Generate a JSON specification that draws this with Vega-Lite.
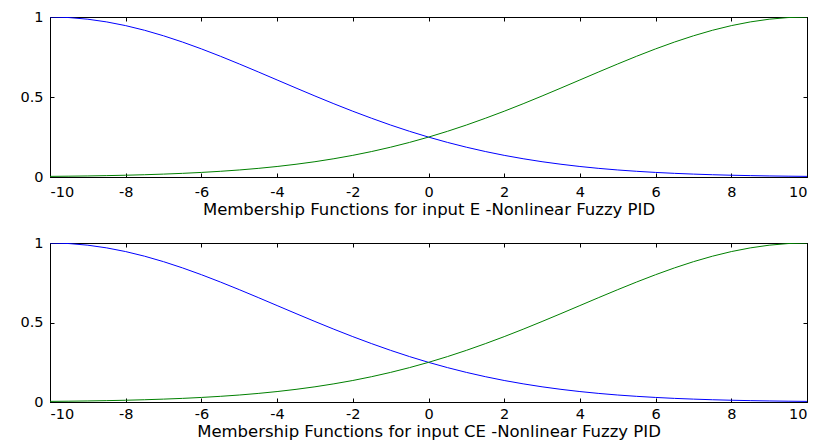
{
  "$schema": "https://vega.github.io/schema/vega-lite/v6.json",
  "autosize": {"type": "pad"},
  "padding": {"left": 19, "top": 8, "right": 1, "bottom": 0},
  "background": "white",
  "spacing": 15,
  "config": {
    "view": {"stroke": "#000000", "strokeWidth": 1},
    "font": "DejaVu Sans",
    "axis": {
      "grid": false,
      "domainColor": "#000000",
      "tickColor": "#000000",
      "tickSize": -4,
      "labelColor": "#000000",
      "labelFont": "DejaVu Sans",
      "labelFontSize": 14.5,
      "titleFont": "DejaVu Sans",
      "titleFontSize": 16.5,
      "titleFontWeight": "normal",
      "titleColor": "#000000"
    }
  },
  "datasets": {
    "mf": [
      {"x": -10, "mf": "A", "value": 1.0}, {"x": -9.5, "mf": "A", "value": 0.9965}, {"x": -9, "mf": "A", "value": 0.9862}, {"x": -8.5, "mf": "A", "value": 0.9692}, {"x": -8, "mf": "A", "value": 0.946}, {"x": -7.5, "mf": "A", "value": 0.9169}, {"x": -7, "mf": "A", "value": 0.8825}, {"x": -6.5, "mf": "A", "value": 0.8435}, {"x": -6, "mf": "A", "value": 0.8007}, {"x": -5.5, "mf": "A", "value": 0.7548}, {"x": -5, "mf": "A", "value": 0.7066}, {"x": -4.5, "mf": "A", "value": 0.657}, {"x": -4, "mf": "A", "value": 0.6065}, {"x": -3.5, "mf": "A", "value": 0.5561}, {"x": -3, "mf": "A", "value": 0.5063}, {"x": -2.5, "mf": "A", "value": 0.4578}, {"x": -2, "mf": "A", "value": 0.4111}, {"x": -1.5, "mf": "A", "value": 0.3668}, {"x": -1, "mf": "A", "value": 0.3247}, {"x": -0.5, "mf": "A", "value": 0.2855}, {"x": 0, "mf": "A", "value": 0.2494}, {"x": 0.5, "mf": "A", "value": 0.2163}, {"x": 1, "mf": "A", "value": 0.1863}, {"x": 1.5, "mf": "A", "value": 0.1593}, {"x": 2, "mf": "A", "value": 0.1353}, {"x": 2.5, "mf": "A", "value": 0.1142}, {"x": 3, "mf": "A", "value": 0.0956}, {"x": 3.5, "mf": "A", "value": 0.0796}, {"x": 4, "mf": "A", "value": 0.0657}, {"x": 4.5, "mf": "A", "value": 0.0539}, {"x": 5, "mf": "A", "value": 0.0439}, {"x": 5.5, "mf": "A", "value": 0.0356}, {"x": 6, "mf": "A", "value": 0.0286}, {"x": 6.5, "mf": "A", "value": 0.0228}, {"x": 7, "mf": "A", "value": 0.0181}, {"x": 7.5, "mf": "A", "value": 0.0142}, {"x": 8, "mf": "A", "value": 0.0111}, {"x": 8.5, "mf": "A", "value": 0.0086}, {"x": 9, "mf": "A", "value": 0.0066}, {"x": 9.5, "mf": "A", "value": 0.0051}, {"x": 10, "mf": "A", "value": 0.0039},
      {"x": -10, "mf": "B", "value": 0.0039}, {"x": -9.5, "mf": "B", "value": 0.0051}, {"x": -9, "mf": "B", "value": 0.0066}, {"x": -8.5, "mf": "B", "value": 0.0086}, {"x": -8, "mf": "B", "value": 0.0111}, {"x": -7.5, "mf": "B", "value": 0.0142}, {"x": -7, "mf": "B", "value": 0.0181}, {"x": -6.5, "mf": "B", "value": 0.0228}, {"x": -6, "mf": "B", "value": 0.0286}, {"x": -5.5, "mf": "B", "value": 0.0356}, {"x": -5, "mf": "B", "value": 0.0439}, {"x": -4.5, "mf": "B", "value": 0.0539}, {"x": -4, "mf": "B", "value": 0.0657}, {"x": -3.5, "mf": "B", "value": 0.0796}, {"x": -3, "mf": "B", "value": 0.0956}, {"x": -2.5, "mf": "B", "value": 0.1142}, {"x": -2, "mf": "B", "value": 0.1353}, {"x": -1.5, "mf": "B", "value": 0.1593}, {"x": -1, "mf": "B", "value": 0.1863}, {"x": -0.5, "mf": "B", "value": 0.2163}, {"x": 0, "mf": "B", "value": 0.2494}, {"x": 0.5, "mf": "B", "value": 0.2855}, {"x": 1, "mf": "B", "value": 0.3247}, {"x": 1.5, "mf": "B", "value": 0.3668}, {"x": 2, "mf": "B", "value": 0.4111}, {"x": 2.5, "mf": "B", "value": 0.4578}, {"x": 3, "mf": "B", "value": 0.5063}, {"x": 3.5, "mf": "B", "value": 0.5561}, {"x": 4, "mf": "B", "value": 0.6065}, {"x": 4.5, "mf": "B", "value": 0.657}, {"x": 5, "mf": "B", "value": 0.7066}, {"x": 5.5, "mf": "B", "value": 0.7548}, {"x": 6, "mf": "B", "value": 0.8007}, {"x": 6.5, "mf": "B", "value": 0.8435}, {"x": 7, "mf": "B", "value": 0.8825}, {"x": 7.5, "mf": "B", "value": 0.9169}, {"x": 8, "mf": "B", "value": 0.946}, {"x": 8.5, "mf": "B", "value": 0.9692}, {"x": 9, "mf": "B", "value": 0.9862}, {"x": 9.5, "mf": "B", "value": 0.9965}, {"x": 10, "mf": "B", "value": 1.0}
    ]
  },
  "vconcat": [
    {
      "width": 757,
      "height": 160,
      "data": {"name": "mf"},
      "layer": [
        {
          "mark": {"type": "line", "strokeWidth": 1, "clip": true},
          "encoding": {
            "x": {"field": "x", "type": "quantitative", "scale": {"domain": [-10, 10], "nice": false, "zero": false},
              "axis": {"orient": "bottom", "values": [-10, -8, -6, -4, -2, 0, 2, 4, 6, 8, 10], "labelExpr": "'' + datum.value", "labelPadding": 12, "title": "Membership Functions for input E -Nonlinear Fuzzy PID", "titlePadding": 3}},
            "y": {"field": "value", "type": "quantitative", "scale": {"domain": [0, 1], "nice": false},
              "axis": {"orient": "left", "values": [0, 0.5, 1], "labelExpr": "'' + datum.value", "labelPadding": 11, "title": null}},
            "color": {"field": "mf", "type": "nominal", "scale": {"domain": ["A", "B"], "range": ["#0000ff", "#008000"]}, "legend": null}
          }
        },
        {
          "mark": {"type": "line", "strokeOpacity": 0},
          "encoding": {
            "x": {"field": "x", "type": "quantitative", "axis": {"orient": "top", "values": [-10, -8, -6, -4, -2, 0, 2, 4, 6, 8, 10], "labels": false, "title": null}},
            "y": {"field": "value", "type": "quantitative", "axis": {"orient": "right", "values": [0, 0.5, 1], "labels": false, "title": null}},
            "detail": {"field": "mf"}
          }
        }
      ],
      "resolve": {"axis": {"x": "independent", "y": "independent"}}
    },
    {
      "width": 757,
      "height": 159,
      "data": {"name": "mf"},
      "layer": [
        {
          "mark": {"type": "line", "strokeWidth": 1, "clip": true},
          "encoding": {
            "x": {"field": "x", "type": "quantitative", "scale": {"domain": [-10, 10], "nice": false, "zero": false},
              "axis": {"orient": "bottom", "values": [-10, -8, -6, -4, -2, 0, 2, 4, 6, 8, 10], "labelExpr": "'' + datum.value", "labelPadding": 9, "title": "Membership Functions for input CE -Nonlinear Fuzzy PID", "titlePadding": 3}},
            "y": {"field": "value", "type": "quantitative", "scale": {"domain": [0, 1], "nice": false},
              "axis": {"orient": "left", "values": [0, 0.5, 1], "labelExpr": "'' + datum.value", "labelPadding": 11, "title": null}},
            "color": {"field": "mf", "type": "nominal", "scale": {"domain": ["A", "B"], "range": ["#0000ff", "#008000"]}, "legend": null}
          }
        },
        {
          "mark": {"type": "line", "strokeOpacity": 0},
          "encoding": {
            "x": {"field": "x", "type": "quantitative", "axis": {"orient": "top", "values": [-10, -8, -6, -4, -2, 0, 2, 4, 6, 8, 10], "labels": false, "title": null}},
            "y": {"field": "value", "type": "quantitative", "axis": {"orient": "right", "values": [0, 0.5, 1], "labels": false, "title": null}},
            "detail": {"field": "mf"}
          }
        }
      ],
      "resolve": {"axis": {"x": "independent", "y": "independent"}}
    }
  ]
}
